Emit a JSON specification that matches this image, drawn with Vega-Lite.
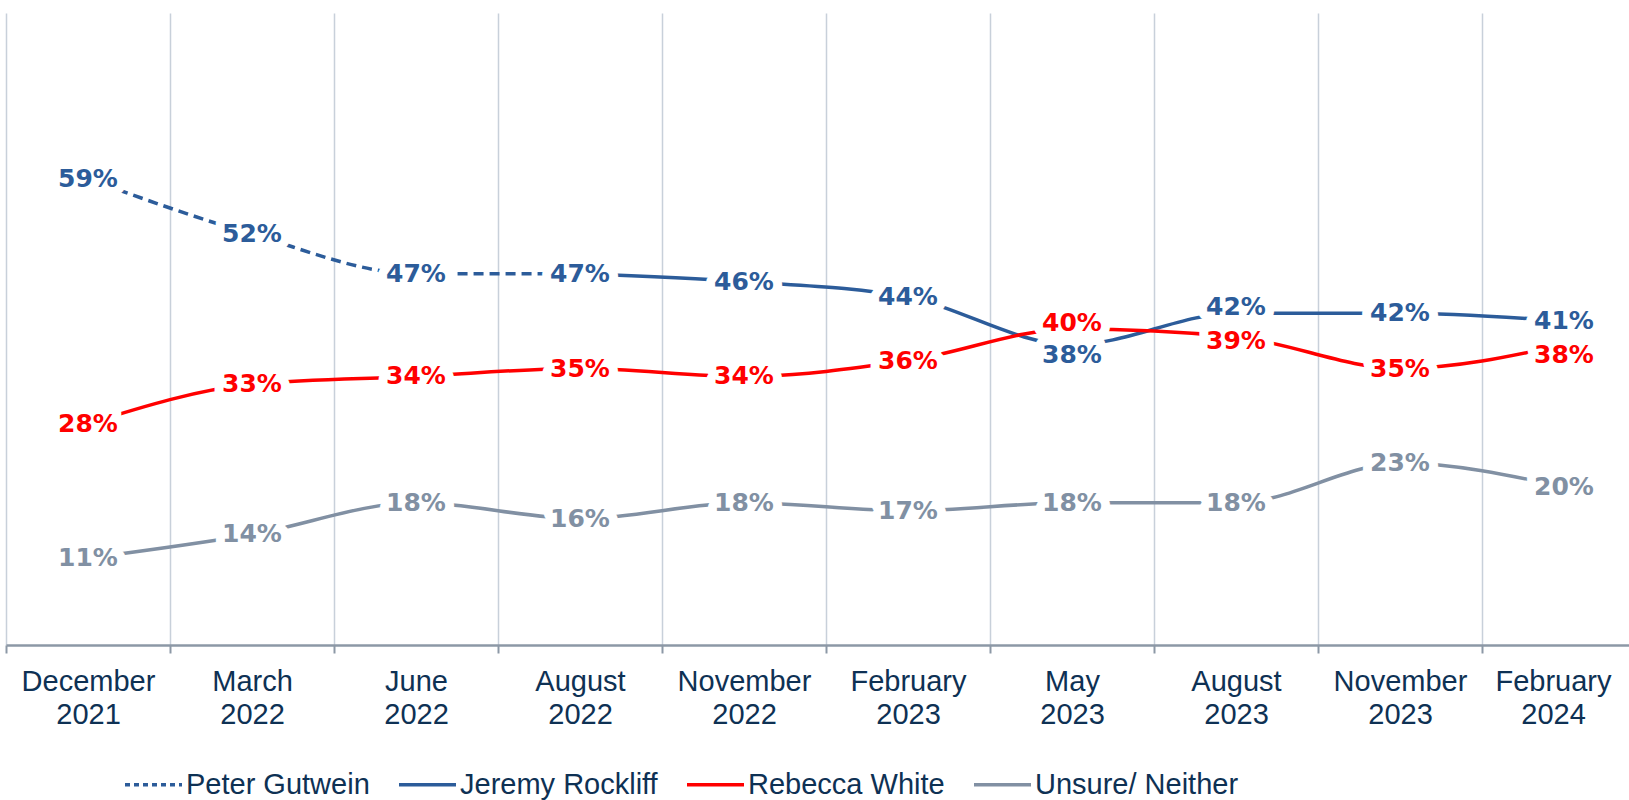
{
  "$schema": "https://vega.github.io/schema/vega-lite/v6.json",
  "autosize": "none",
  "width": 1623,
  "height": 632,
  "padding": {"left": 6, "top": 13, "right": 0, "bottom": 155},
  "background": "white",
  "config": {"view": {"stroke": null}},
  "data": {
    "values": [
      {"series": "Peter Gutwein", "date": "December 2021", "value": 59},
      {"series": "Peter Gutwein", "date": "March 2022", "value": 52},
      {"series": "Peter Gutwein", "date": "June 2022", "value": 47},
      {"series": "Peter Gutwein", "date": "August 2022", "value": 47},
      {"series": "Jeremy Rockliff", "date": "August 2022", "value": 47},
      {"series": "Jeremy Rockliff", "date": "November 2022", "value": 46},
      {"series": "Jeremy Rockliff", "date": "February 2023", "value": 44},
      {"series": "Jeremy Rockliff", "date": "May 2023", "value": 38},
      {"series": "Jeremy Rockliff", "date": "August 2023", "value": 42},
      {"series": "Jeremy Rockliff", "date": "November 2023", "value": 42},
      {"series": "Jeremy Rockliff", "date": "February 2024", "value": 41},
      {"series": "Rebecca White", "date": "December 2021", "value": 28},
      {"series": "Rebecca White", "date": "March 2022", "value": 33},
      {"series": "Rebecca White", "date": "June 2022", "value": 34},
      {"series": "Rebecca White", "date": "August 2022", "value": 35},
      {"series": "Rebecca White", "date": "November 2022", "value": 34},
      {"series": "Rebecca White", "date": "February 2023", "value": 36},
      {"series": "Rebecca White", "date": "May 2023", "value": 40},
      {"series": "Rebecca White", "date": "August 2023", "value": 39},
      {"series": "Rebecca White", "date": "November 2023", "value": 35},
      {"series": "Rebecca White", "date": "February 2024", "value": 38},
      {"series": "Unsure/ Neither", "date": "December 2021", "value": 11},
      {"series": "Unsure/ Neither", "date": "March 2022", "value": 14},
      {"series": "Unsure/ Neither", "date": "June 2022", "value": 18},
      {"series": "Unsure/ Neither", "date": "August 2022", "value": 16},
      {"series": "Unsure/ Neither", "date": "November 2022", "value": 18},
      {"series": "Unsure/ Neither", "date": "February 2023", "value": 17},
      {"series": "Unsure/ Neither", "date": "May 2023", "value": 18},
      {"series": "Unsure/ Neither", "date": "August 2023", "value": 18},
      {"series": "Unsure/ Neither", "date": "November 2023", "value": 23},
      {"series": "Unsure/ Neither", "date": "February 2024", "value": 20}
    ]
  },
  "transform": [{"calculate": "datum.value + '%'", "as": "label"}],
  "encoding": {
    "x": {
      "field": "date",
      "type": "ordinal",
      "bandPosition": 0.5,
      "sort": ["December 2021", "March 2022", "June 2022", "August 2022", "November 2022", "February 2023", "May 2023", "August 2023", "November 2023", "February 2024"],
      "scale": {"type": "band", "range": [0, 1640], "paddingInner": 0, "paddingOuter": 0},
      "axis": {
        "title": null,
        "tickBand": "extent",
        "grid": true,
        "gridColor": "#c8d0da",
        "gridWidth": 1.5,
        "domainColor": "#8c98a6",
        "domainWidth": 2.5,
        "tickColor": "#8c98a6",
        "tickWidth": 2,
        "tickSize": 8,
        "labelAngle": 0,
        "labelFont": "Liberation Sans",
        "labelFontSize": 29,
        "labelColor": "#0e3154",
        "labelPadding": 14,
        "labelLineHeight": 33,
        "labelBaseline": "top",
        "labelExpr": "split(datum.label, ' ')",
        "labelOffset": {"condition": {"test": "datum.value == 'February 2024'", "value": -11}, "value": 0}
      }
    },
    "y": {"field": "value", "type": "quantitative", "scale": {"domain": [0, 80]}, "axis": null}
  },
  "layer": [
    {
      "transform": [{"filter": "datum.series != 'Peter Gutwein'"}],
      "mark": {"type": "line", "interpolate": "monotone", "strokeWidth": 3.5},
      "encoding": {
        "color": {
          "field": "series",
          "type": "nominal",
          "scale": {
            "domain": ["Peter Gutwein", "Jeremy Rockliff", "Rebecca White", "Unsure/ Neither"],
            "range": ["#2c5c9a", "#2c5c9a", "#ff0000", "#8190a3"]
          },
          "legend": {
            "orient": "none",
            "legendX": 117,
            "legendY": 741,
            "direction": "horizontal",
            "columns": 4,
            "title": null,
            "symbolType": "stroke",
            "symbolSize": 3249,
            "symbolStrokeWidth": 3.5,
            "labelFont": "Liberation Sans",
            "labelFontSize": 29,
            "labelColor": "#0e3154",
            "labelOffset": 2,
            "columnPadding": 22,
            "labelLimit": 400,
            "encode": {"symbols": {"update": {
              "stroke": {"scale": "color", "field": "value"},
              "strokeDash": {"signal": "datum.label === 'Peter Gutwein' ? [5,4] : [1,0]"}
            }}}
          }
        }
      }
    },
    {
      "transform": [{"filter": "datum.series == 'Peter Gutwein'"}],
      "mark": {"type": "line", "interpolate": "monotone", "strokeWidth": 3.5, "strokeDash": [10, 6]},
      "encoding": {"color": {"field": "series", "type": "nominal"}}
    },
    {
      "transform": [{"filter": "!(datum.series == 'Peter Gutwein' && datum.date == 'August 2022') && !((datum.series == 'Rebecca White' && (datum.date == 'May 2023' || datum.date == 'August 2023' || datum.date == 'February 2024')) || (datum.series == 'Jeremy Rockliff' && (datum.date == 'May 2023' || datum.date == 'August 2023')))"}],
      "mark": {"type": "text", "font": "DejaVu Sans", "fontWeight": "bold", "fontSize": 25, "baseline": "middle", "stroke": "white", "strokeWidth": 18, "strokeJoin": "round", "fill": "white"},
      "encoding": {"text": {"field": "label"}}
    },
    {
      "transform": [{"filter": "(datum.series == 'Rebecca White' && datum.date == 'May 2023') || (datum.series == 'Jeremy Rockliff' && datum.date == 'August 2023')"}],
      "mark": {"type": "text", "font": "DejaVu Sans", "fontWeight": "bold", "fontSize": 25, "baseline": "middle", "dy": -6, "stroke": "white", "strokeWidth": 18, "strokeJoin": "round", "fill": "white"},
      "encoding": {"text": {"field": "label"}}
    },
    {
      "transform": [{"filter": "datum.series == 'Rebecca White' && datum.date == 'August 2023'"}],
      "mark": {"type": "text", "font": "DejaVu Sans", "fontWeight": "bold", "fontSize": 25, "baseline": "middle", "dy": 4, "stroke": "white", "strokeWidth": 18, "strokeJoin": "round", "fill": "white"},
      "encoding": {"text": {"field": "label"}}
    },
    {
      "transform": [{"filter": "(datum.series == 'Jeremy Rockliff' && datum.date == 'May 2023') || (datum.series == 'Rebecca White' && datum.date == 'February 2024')"}],
      "mark": {"type": "text", "font": "DejaVu Sans", "fontWeight": "bold", "fontSize": 25, "baseline": "middle", "dy": 10, "stroke": "white", "strokeWidth": 18, "strokeJoin": "round", "fill": "white"},
      "encoding": {"text": {"field": "label"}}
    },
    {
      "transform": [{"filter": "!(datum.series == 'Peter Gutwein' && datum.date == 'August 2022') && !((datum.series == 'Rebecca White' && (datum.date == 'May 2023' || datum.date == 'August 2023' || datum.date == 'February 2024')) || (datum.series == 'Jeremy Rockliff' && (datum.date == 'May 2023' || datum.date == 'August 2023')))"}],
      "mark": {"type": "text", "font": "DejaVu Sans", "fontWeight": "bold", "fontSize": 25, "baseline": "middle"},
      "encoding": {"text": {"field": "label"}, "color": {"field": "series", "type": "nominal"}}
    },
    {
      "transform": [{"filter": "(datum.series == 'Rebecca White' && datum.date == 'May 2023') || (datum.series == 'Jeremy Rockliff' && datum.date == 'August 2023')"}],
      "mark": {"type": "text", "font": "DejaVu Sans", "fontWeight": "bold", "fontSize": 25, "baseline": "middle", "dy": -6},
      "encoding": {"text": {"field": "label"}, "color": {"field": "series", "type": "nominal"}}
    },
    {
      "transform": [{"filter": "datum.series == 'Rebecca White' && datum.date == 'August 2023'"}],
      "mark": {"type": "text", "font": "DejaVu Sans", "fontWeight": "bold", "fontSize": 25, "baseline": "middle", "dy": 4},
      "encoding": {"text": {"field": "label"}, "color": {"field": "series", "type": "nominal"}}
    },
    {
      "transform": [{"filter": "(datum.series == 'Jeremy Rockliff' && datum.date == 'May 2023') || (datum.series == 'Rebecca White' && datum.date == 'February 2024')"}],
      "mark": {"type": "text", "font": "DejaVu Sans", "fontWeight": "bold", "fontSize": 25, "baseline": "middle", "dy": 10},
      "encoding": {"text": {"field": "label"}, "color": {"field": "series", "type": "nominal"}}
    }
  ]
}
